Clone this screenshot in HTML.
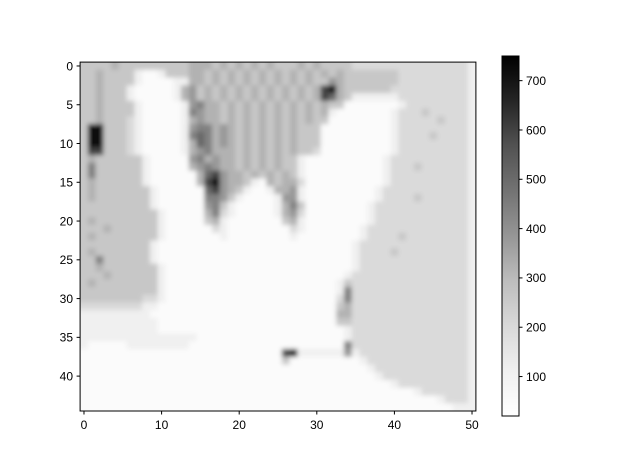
<!DOCTYPE html>
<html><head><meta charset="utf-8"><style>
html,body{margin:0;padding:0;background:#fff;}
svg text{font-family:"Liberation Sans","DejaVu Sans",sans-serif;font-size:12px;fill:#000;}
</style></head><body>
<svg id="chart" width="640" height="468" xmlns="http://www.w3.org/2000/svg">
<defs>
<clipPath id="clip"><rect x="80.1" y="62.1" width="395.8" height="348.9"/></clipPath>
<filter id="blur" x="-5%" y="-5%" width="110%" height="110%"><feGaussianBlur stdDeviation="2.3"/></filter>
<linearGradient id="cbgrad" x1="0" y1="1" x2="0" y2="0">
<stop offset="0" stop-color="rgb(255,255,255)"/><stop offset="0.125" stop-color="rgb(240,240,240)"/>
<stop offset="0.25" stop-color="rgb(217,217,217)"/><stop offset="0.375" stop-color="rgb(189,189,189)"/>
<stop offset="0.5" stop-color="rgb(150,150,150)"/><stop offset="0.625" stop-color="rgb(115,115,115)"/>
<stop offset="0.75" stop-color="rgb(82,82,82)"/><stop offset="0.875" stop-color="rgb(37,37,37)"/>
<stop offset="1" stop-color="rgb(0,0,0)"/></linearGradient>
</defs>
<g clip-path="url(#clip)"><g id="cells" filter="url(#blur)"></g></g>
<rect x="80.1" y="62.1" width="395.8" height="348.9" fill="none" stroke="#000" stroke-width="1"/>
<g id="xaxis"></g>
<g id="yaxis"></g>
<rect x="502" y="56" width="17" height="360" fill="url(#cbgrad)" stroke="#000" stroke-width="1"/>
<g id="cbaxis"></g>
</svg>
<script>
const levelValues = [45, 110, 200, 260, 320, 380, 440, 510, 600, 720];
const rowCodes = [
"333343333333334443434343433343433332222222222222221",
"334333310013334434343434343434343433333332222222221",
"334333310000114434343434343434335433333332222222221",
"334333100000145343434343434343489433333322222222221",
"334333100000145343434343434343487431111112222222221",
"334333310000015644343434343434343300000001222222221",
"334333310000016544343434343434341000000012223222221",
"334333210000014544343434343434330000000012222232221",
"399333210000015664543434343433300000000012222222221",
"399333210000016764543434343433300000000012222322221",
"399333210000014764543434343433300000000012222222221",
"388333210000014564443434343433200000000012222222221",
"343333331000005645443434343310000000000122222222221",
"363333331000004565443434343310000000000122232222221",
"363333331000000478544343434310000000000122222222221",
"343333331000000489544310434420000000000122222222221",
"343333333100000078543100144510000000001222222222221",
"343333333100000066531000015510000000001222232222221",
"333333333100000056310000014630000000012222222222221",
"333333333310000046210000014520000000012222222222221",
"343333333310000034100000003410000000012222222222221",
"333433333310000002100000000210000000122222222222221",
"343333333310000000100000000100000000122223222222221",
"3333333331 0*25 1 2*14 1",
"3433333331 0*25 1 2*4 3 2*9 1",
"3363333331 0*25 1 2*14 1",
"33433333331 0*24 1 2*14 1",
"33343333331 0*23 1 2*15 1",
"34333333331 0*22 1 3 2*15 1",
"33333333331 0*22 1 6 2*15 1",
"33333333221 0*22 2 6 2*15 1",
"2222222211 0*23 3 4 2*15 1",
"111111111 0*24 4 4 2*15 1",
"1111111111 0*23 3 3 2*15 1",
"1111111111 0*24 1 2*15 1",
"1*15 0*19 1 2*15 1",
"100000111111110 0*19 6 2*15 1",
"0*26 8 9 1*6 5 1 2*14 1",
"0*26 3 0*9 1 2*13 1",
"0*37 1 2*12 1",
"0*38 1 2*11 1",
"0*40 1 2*9 1",
"0*43 1 2*6 1",
"0*46 1 2*3 1",
"0*48 1*3"
];
const xTicks = [0, 10, 20, 30, 40, 50];
const yTicks = [0, 5, 10, 15, 20, 25, 30, 35, 40];
const cbTicks = [100, 200, 300, 400, 500, 600, 700];
const vmin = 20, vmax = 750;
const nCols = 51, nRows = 45;

const NS = "http://www.w3.org/2000/svg";
const x0 = 80.1, y0 = 62.1, cw = 395.8 / nCols, ch = 348.9 / nRows;
function xScale(c){ return x0 + (c + 0.5) * cw; }
function yScale(r){ return y0 + (r + 0.5) * ch; }
function cbScale(v){ return 416 - (v - vmin) / (vmax - vmin) * 360; }
const gStops = [255,240,217,189,150,115,82,37,0];
function grey(v){
  const t = Math.max(0, Math.min(1, (v - vmin) / (vmax - vmin))) * 8;
  const i = Math.min(7, Math.floor(t)); const f = t - i;
  const g = Math.round(gStops[i] + (gStops[i+1] - gStops[i]) * f);
  return "rgb(" + g + "," + g + "," + g + ")";
}
function expandRow(code){
  return code.split(" ").map(tok => {
    const p = tok.split("*");
    return p.length === 2 ? p[0].repeat(+p[1]) : tok;
  }).join("");
}
const cells = document.getElementById('cells');
for (let r = 0; r < nRows; r++) {
  let s = expandRow(rowCodes[r]);
  if (s.length < nCols) s = s.padEnd(nCols, s[s.length-1]);
  s = s.slice(0, nCols);
  for (let c = 0; c < nCols; c++) {
    const v = levelValues[+s[c]];
    let x = xScale(c) - cw/2, y = yScale(r) - ch/2, w = cw + 0.5, h = ch + 0.5;
    if (c === 0) { x -= 12; w += 12; }
    if (c === nCols-1) { w += 12; }
    if (r === 0) { y -= 12; h += 12; }
    if (r === nRows-1) { h += 12; }
    const rect = document.createElementNS(NS, 'rect');
    
    
    rect.setAttribute('x', x); rect.setAttribute('y', y);
    rect.setAttribute('width', w); rect.setAttribute('height', h);
    rect.setAttribute('fill', grey(v));
    cells.appendChild(rect);
  }
}
function tickLine(parent, x1, y1, x2, y2){
  const l = document.createElementNS(NS, 'line');
  
  
  l.setAttribute('x1', x1); l.setAttribute('y1', y1); l.setAttribute('x2', x2); l.setAttribute('y2', y2);
  l.setAttribute('stroke', '#000'); l.setAttribute('stroke-width', '1');
  parent.appendChild(l);
}
function tickText(parent, x, y, str, anchor){
  const t = document.createElementNS(NS, 'text');
  
  
  t.setAttribute('x', x); t.setAttribute('y', y); t.setAttribute('text-anchor', anchor);
  t.textContent = str; parent.appendChild(t);
}
const xa = document.getElementById('xaxis');
xTicks.forEach(v => { const x = xScale(v); tickLine(xa, x, 411, x, 414.5); tickText(xa, x, 429, String(v), 'middle'); });
const ya = document.getElementById('yaxis');
yTicks.forEach(v => { const y = yScale(v); tickLine(ya, 80.1, y, 76.6, y); tickText(ya, 73, y + 4.3, String(v), 'end'); });
const cb = document.getElementById('cbaxis');
cbTicks.forEach(v => { const y = cbScale(v); tickLine(cb, 519, y, 522.5, y); tickText(cb, 526, y + 4.3, String(v), 'start'); });
</script>
</body></html>
